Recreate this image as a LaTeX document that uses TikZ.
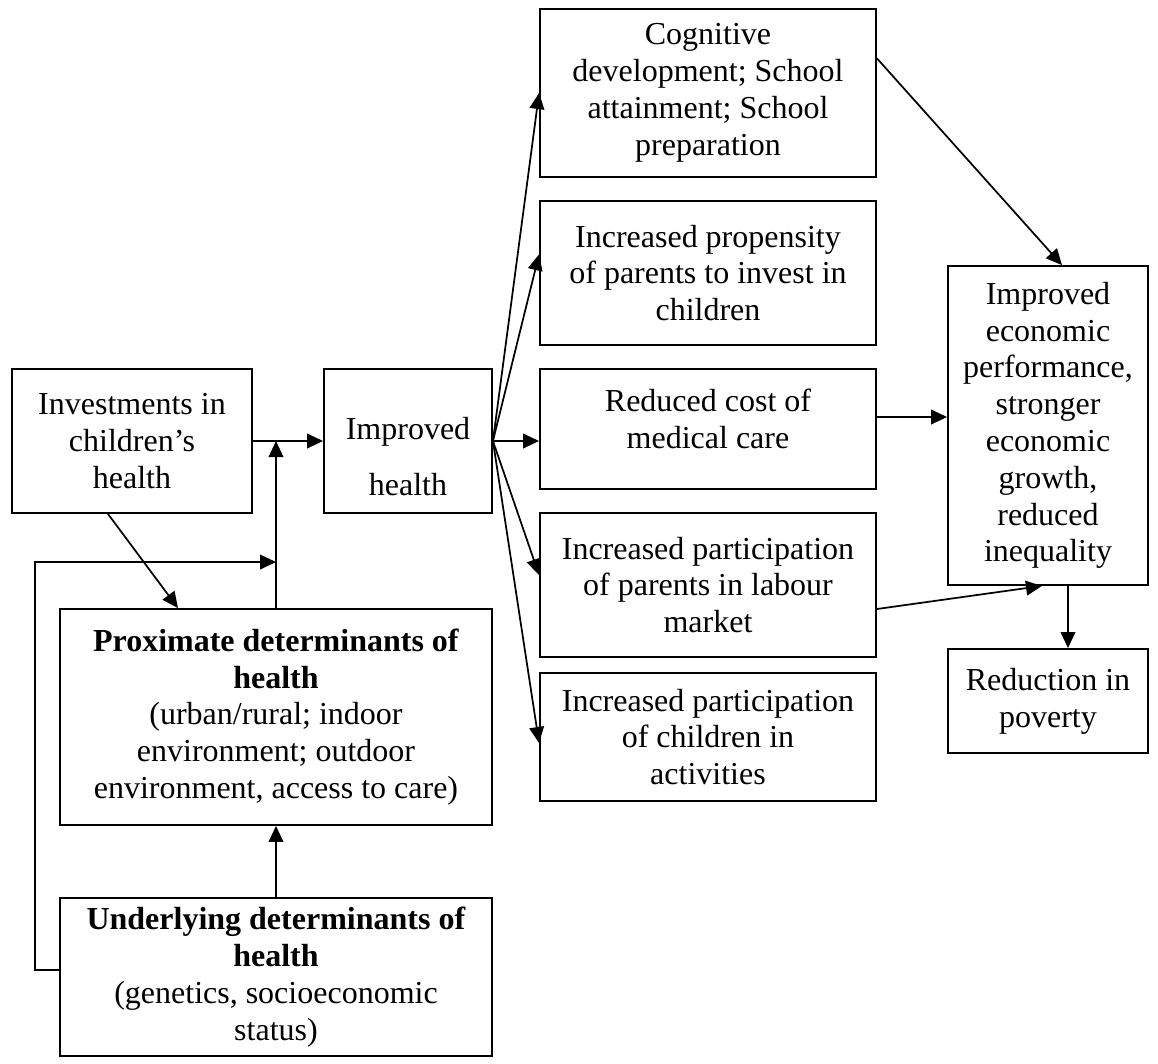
\documentclass[tikz,border=0pt]{standalone}
\usepackage{fontspec}
\setmainfont{Liberation Serif}
\usetikzlibrary{arrows.meta}

\tikzset{
  box/.style={draw,line width=0.7pt,align=center,inner sep=0pt,
    font=\fontsize{12pt}{13.8pt}\selectfont},
  arr/.style={-{Triangle[length=6pt,width=5.5pt]},line width=0.65pt}
}

\begin{document}
\begin{tikzpicture}[x=0.375pt,y=-0.375pt]
\useasboundingbox (0,0) rectangle (1158,1063);
% left column
\node[box,minimum width=90pt,minimum height=54pt] (inv) at (132,441) {Investments in\\children's\\health};
\node[box,minimum width=63pt,minimum height=54pt] (ih) at (408,441) {\rule{0pt}{20pt}Improved\\[7pt]health};
\node[box,minimum width=162pt,minimum height=81pt] (prox) at (276,717) {\textbf{Proximate determinants of}\\\textbf{health}\\(urban/rural; indoor\\environment; outdoor\\environment, access to care)};
\node[box,minimum width=162pt,minimum height=59.25pt] (und) at (276,977) {\textbf{Underlying determinants of}\\\textbf{health}\\(genetics, socioeconomic\\status)};
% middle column
\node[box,minimum width=126pt,minimum height=63pt] (cog) at (708,93) {Cognitive\\development; School\\attainment; School\\preparation};
\node[box,minimum width=126pt,minimum height=54pt] (prop) at (708,273) {Increased propensity\\of parents to invest in\\children};
\node[box,minimum width=126pt,minimum height=45pt] (med) at (708,429) {Reduced cost of\\medical care\rule[-8pt]{0pt}{8pt}};
\node[box,minimum width=126pt,minimum height=54pt] (par) at (708,585) {Increased participation\\of parents in labour\\market};
\node[box,minimum width=126pt,minimum height=48pt] (kid) at (708,737) {Increased participation\\of children in\\activities};
% right column
\node[box,minimum width=75pt,minimum height=119.6pt] (eco) at (1048,425.5) {Improved\\economic\\performance,\\stronger\\economic\\growth,\\reduced\\inequality};
\node[box,minimum width=75pt,minimum height=39pt] (red) at (1048,701) {Reduction in\\poverty};

\coordinate (join) at (prox.north |- ih.west);
\coordinate (loopend) at (276,562);
\draw[arr] (inv) -- (ih);
\draw[arr] (prox.north) -- (join);
\draw[arr] ([yshift=2.6pt]und.west) -- ++(-24,0) |- (loopend);
\draw[arr] ([xshift=-9pt]inv.south) -- ([xshift=-36.75pt]prox.north);
\draw[arr] (und) -- (prox);

\draw[arr] (ih.east) -- (cog.west);
\draw[arr] (ih.east) -- ([yshift=7pt]prop.west);
\draw[arr] (ih.east) -- (ih.east -| med.west);
\draw[arr] (ih.east) -- ([yshift=3.75pt]par.west);
\draw[arr] (ih.east) -- ([yshift=-2.25pt]kid.west);

\coordinate (medout) at ([yshift=4.5pt]med.east);
\draw[arr] ([yshift=13pt]cog.east) -- ([xshift=5.25pt]eco.north);
\draw[arr] (medout) -- (medout -| eco.west);
\draw[arr] ([yshift=-9pt]par.east) -- ([xshift=-2.25pt]eco.south);
\draw[arr] ([xshift=7.5pt]eco.south) -- ([xshift=7.5pt]red.north);
\end{tikzpicture}
\end{document}
